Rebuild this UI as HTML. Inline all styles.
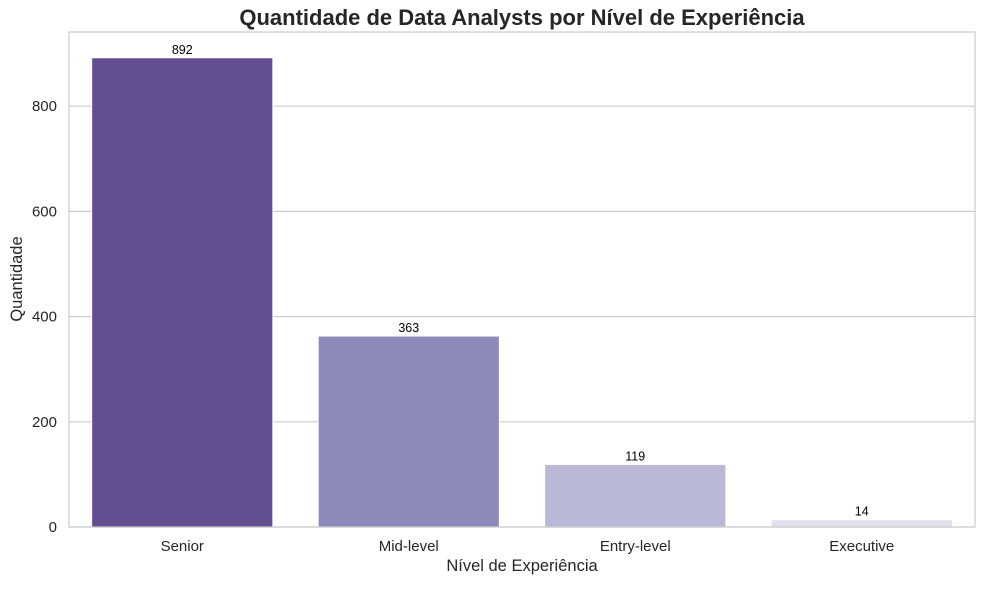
<!DOCTYPE html>
<html><head><meta charset="utf-8"><style>
body{margin:0;background:#fff;font-family:"Liberation Sans","DejaVu Sans",sans-serif;}
</style></head><body>
<svg id="chart" width="984" height="584" xmlns="http://www.w3.org/2000/svg">
<text x="522" y="25" text-anchor="middle" font-size="22" font-weight="bold" fill="#262626">Quantidade de Data Analysts por Nível de Experiência</text>
<g id="grid"></g>
<g id="bars"></g>
<rect x="69" y="32" width="906" height="495" fill="none" stroke="#cccccc" stroke-width="1.2"/>
<text x="522" y="571" text-anchor="middle" font-size="16.5" fill="#262626">Nível de Experiência</text>
<text transform="translate(22,279) rotate(-90)" text-anchor="middle" font-size="16.5" fill="#262626">Quantidade</text>
</svg>
<script>
const categories=["Senior","Mid-level","Entry-level","Executive"];
const values=[892,363,119,14];
const colors=["#634e91","#8d8aba","#b9b9d7","#e1e0ef"];
const yTicks=[0,200,400,600,800];
const L=69,R=975,T=32,B=527,YMAX=941;
const ns="http://www.w3.org/2000/svg";
const y=v=>B-(v/YMAX)*(B-T);
const band=(R-L)/categories.length;
const x=i=>L+band*(i+0.5);
const grid=document.getElementById('grid'),bars=document.getElementById('bars');
function mk(t,a,p){const e=document.createElementNS(ns,t);for(const k in a)e.setAttribute(k,a[k]);p.appendChild(e);return e;}
yTicks.forEach(v=>{
 const l=mk('line',{x1:L,x2:R,y1:y(v),y2:y(v),stroke:'#cccccc','stroke-width':1.2},grid);
 
 
 const t=mk('text',{x:L-12,y:y(v)+5,'text-anchor':'end','font-size':15,fill:'#262626'},grid);
 t.textContent=v;
 
 
});
categories.forEach((c,i)=>{
 const w=band*0.8;
 const r=mk('rect',{x:x(i)-w/2,y:y(values[i]),width:w,height:B-y(values[i]),fill:colors[i],stroke:'#fff','stroke-width':1},bars);
 
 
 const vl=mk('text',{x:x(i),y:y(values[i])-4,'text-anchor':'middle','font-size':12.5,fill:'#000'},bars);
 vl.textContent=values[i];
 
 
 const cl=mk('text',{x:x(i),y:B+24,'text-anchor':'middle','font-size':15,fill:'#262626'},bars);
 cl.textContent=c;
 
 
});
</script>
</body></html>
